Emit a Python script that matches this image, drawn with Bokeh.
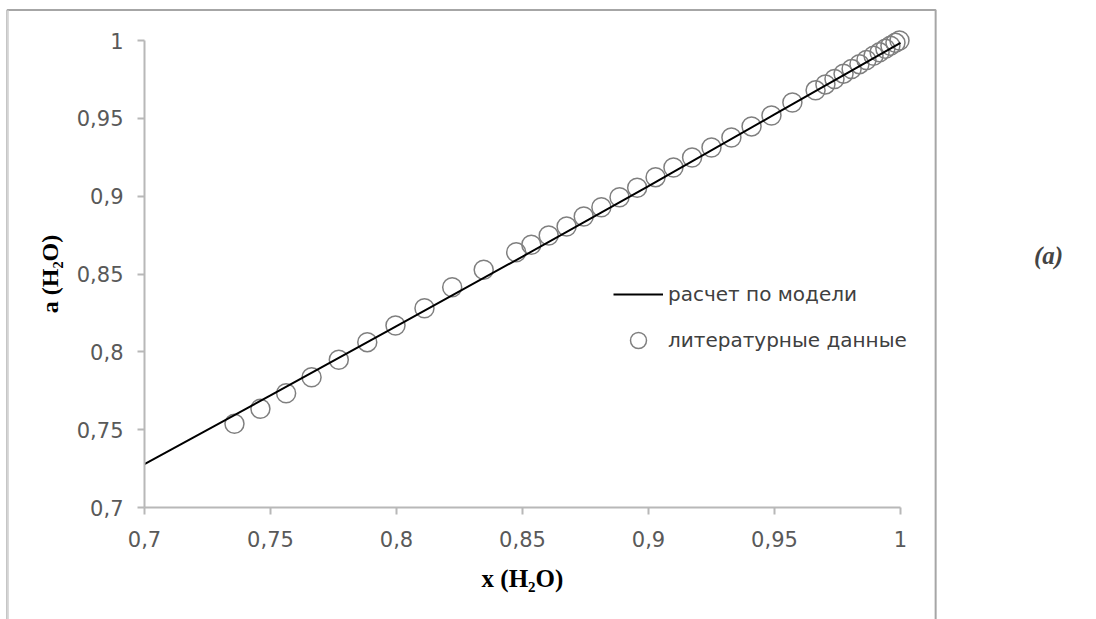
from bokeh.plotting import figure
from bokeh.models import (Range1d, FixedTicker, CustomJSTickFormatter, Legend, LegendItem, Label)
from bokeh.embed import file_html
from bokeh.resources import INLINE

# ---- data ----
x_lit = [0.7357, 0.7460, 0.7562, 0.7663, 0.7771, 0.7884, 0.7996, 0.8111, 0.8221, 0.8346,
         0.8475, 0.8535, 0.8604, 0.8675, 0.8743, 0.8813, 0.8885, 0.8955, 0.9028, 0.9099,
         0.9173, 0.9250, 0.9329, 0.9409, 0.9488, 0.9571, 0.9663, 0.9702, 0.9738, 0.9774,
         0.9806, 0.9837, 0.9865, 0.9893, 0.9917, 0.9940, 0.9960, 0.9980, 0.9996]
y_lit = [0.7538, 0.7634, 0.7734, 0.7837, 0.7949, 0.8062, 0.8169, 0.8280, 0.8415, 0.8527,
         0.8640, 0.8688, 0.8747, 0.8805, 0.8869, 0.8929, 0.8993, 0.9054, 0.9122, 0.9184,
         0.9248, 0.9313, 0.9377, 0.9448, 0.9518, 0.9602, 0.9680, 0.9718, 0.9753, 0.9787,
         0.9817, 0.9848, 0.9875, 0.9902, 0.9924, 0.9947, 0.9966, 0.9985, 1.0000]
x_model = [0.70, 0.75, 0.80, 0.85, 0.90, 0.95, 1.00]
y_model = [0.7278, 0.7720, 0.8165, 0.8612, 0.9065, 0.9525, 0.9985]
ticks = [0.7, 0.75, 0.8, 0.85, 0.9, 0.95, 1.0]
axis_min, axis_max = 0.7, 1.0
series_names = ["расчет по модели", "литературные данные"]
x_title = "x (H₂O)"
y_title = "a (H₂O)"
panel_tag = "(a)"

TICK_FONT = "DejaVu Sans"
SERIF = "Liberation Serif"

# page geometry (pixels): the data area [0.7, 1] x [0.7, 1] sits at x 144..900, y 40..507
W, H = 1096, 619
AX_L, AX_R, AX_T, AX_B = 144, 900, 40, 507
sx = (axis_max - axis_min) / (AX_R - AX_L)
sy = (axis_max - axis_min) / (AX_B - AX_T)
x_range = Range1d(axis_min - AX_L * sx, axis_max + (W - AX_R) * sx)
y_range = Range1d(axis_min - (H - AX_B) * sy, axis_max + AX_T * sy)

p = figure(width=W, height=H, output_backend="svg", toolbar_location=None,
           x_range=x_range, y_range=y_range,
           min_border_left=0, min_border_right=0, min_border_top=0, min_border_bottom=0)
p.outline_line_color = None
p.xgrid.visible = False
p.ygrid.visible = False
p.background_fill_color = "white"
p.border_fill_color = "white"

fmt = CustomJSTickFormatter(code="""
let s = tick.toFixed(2).replace(/0+$/, '').replace(/\\.$/, '');
return s.replace('.', ',');
""")
for ax in (p.xaxis[0], p.yaxis[0]):
    ax.fixed_location = axis_min
    ax.ticker = FixedTicker(ticks=ticks)
    ax.formatter = fmt
    ax.axis_line_color = "#b8b8b8"
    ax.axis_line_width = 2
    ax.major_tick_line_color = "#b8b8b8"
    ax.major_tick_line_width = 2
    ax.major_tick_in = 0
    ax.major_tick_out = 7
    ax.minor_tick_line_color = None
    ax.major_label_text_font = TICK_FONT
    ax.major_label_text_font_size = "21px"
    ax.major_label_text_color = "#595959"
    ax.axis_label_text_font = SERIF
    ax.axis_label_text_font_style = "bold"
    ax.axis_label_text_color = "black"
p.xaxis[0].bounds = (axis_min, axis_max)
p.yaxis[0].bounds = (axis_min, axis_max)

p.xaxis[0].axis_label = x_title
p.yaxis[0].axis_label = y_title
p.xaxis[0].axis_label_text_font_size = "25px"
p.yaxis[0].axis_label_text_font_size = "24px"
p.xaxis[0].major_label_standoff = 16
p.yaxis[0].major_label_standoff = 14
p.xaxis[0].axis_label_standoff = 15
p.yaxis[0].axis_label_standoff = 11

r_pts = p.scatter(x_lit, y_lit, marker="circle", size=19, fill_color=None,
                  line_color="#7f7f7f", line_width=1.5)
r_line = p.line(x_model, y_model, line_color="black", line_width=2)

legend = Legend(items=[LegendItem(label=series_names[0], renderers=[r_line]),
                       LegendItem(label=series_names[1], renderers=[r_pts])],
                location=(613, 259), padding=0, margin=0, spacing=6,
                glyph_width=50, glyph_height=40, label_height=40, label_standoff=5,
                border_line_alpha=0, background_fill_alpha=0,
                label_text_font=TICK_FONT, label_text_font_size="20px",
                label_text_color="#404040")
p.add_layout(legend, "center")

# panel tag "(a)" (screen units, from the bottom-left of the frame)
p.add_layout(Label(x=1048, y=364, x_units="screen", y_units="screen", text=panel_tag,
                   text_font=SERIF, text_font_style="bold italic", text_font_size="25px",
                   text_align="center", text_baseline="middle"))

# chart-area border: empty label boxes with outlines (top/right darker, left lighter)
p.add_layout(Label(x=471, y=294, x_units="screen", y_units="screen", text=" ",
                   text_font_size="1px", text_align="center", text_baseline="middle",
                   padding=(464, 315), border_line_color="#a6a6a6", border_line_width=2,
                   background_fill_alpha=0))
p.add_layout(Label(x=7.5, y=294, x_units="screen", y_units="screen", text=" ",
                   text_font_size="1px", text_align="center", text_baseline="middle",
                   padding=(0, 314), border_line_color="#dadada", border_line_width=1.5,
                   background_fill_alpha=0))

open("out.html", "w").write(file_html(p, INLINE))
